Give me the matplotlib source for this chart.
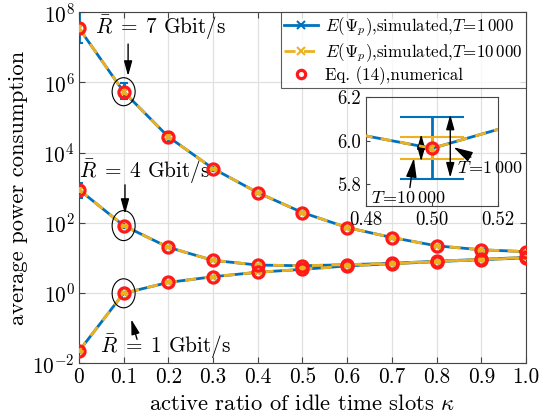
import matplotlib
matplotlib.use("Agg")
import matplotlib.pyplot as plt
import matplotlib.transforms as mtransforms
from matplotlib.lines import Line2D
from matplotlib.patches import Ellipse

plt.rcParams.update({
    "font.family": "serif",
    "font.serif": ["cmr10", "DejaVu Serif"],
    "mathtext.fontset": "cm",
    "axes.formatter.use_mathtext": True,
    "axes.unicode_minus": False,
})

BLUE = "#0072BD"
YELLOW = "#EDB120"
RED = "#FF1A1A"

kappa = [0.0, 0.1, 0.2, 0.3, 0.4, 0.5, 0.6, 0.7, 0.8, 0.9, 1.0]
kappa_labels = ["0", "0.1", "0.2", "0.3", "0.4", "0.5", "0.6", "0.7", "0.8", "0.9", "1.0"]

# mean power per rate (simulated ~ numerical)
power_r7 = [3.5e7, 5.4e5, 2.8e4, 3.5e3, 720, 195, 73, 38, 22, 17, 15]
power_r4 = [880, 83, 20, 8.5, 6.25, 5.965, 6.4, 7.0, 8.0, 9.1, 10.3]
power_r1 = [0.022, 0.98, 2.0, 2.9, 3.9, 4.7, 5.9, 6.8, 7.8, 8.9, 10.0]

# spread of the simulated mean (lower / upper bound)
r7_lo_1000 = [1.3e7, 3.3e5, 2.0e4, 3.0e3, 690, 190, 71, 37, 21.5, 16.6, 14.7]
r7_hi_1000 = [9.8e7, 9.5e5, 3.9e4, 4.0e3, 750, 200, 75, 39, 22.5, 17.4, 15.3]
r4_lo_1000 = [520, 72, 19, 8.2, 6.1, 5.825, 6.25, 6.85, 7.85, 8.95, 10.1]
r4_hi_1000 = [1350, 95, 21, 8.8, 6.4, 6.108, 6.55, 7.15, 8.15, 9.25, 10.5]
r1_lo_1000 = [0.019, 0.94, 1.95, 2.85, 3.85, 4.62, 5.8, 6.7, 7.7, 8.8, 9.85]
r1_hi_1000 = [0.025, 1.02, 2.05, 2.95, 3.95, 4.78, 6.0, 6.9, 7.9, 9.0, 10.15]

r7_lo_10000 = [2.5e7, 4.5e5, 2.5e4, 3.3e3, 710, 193, 72, 37.6, 21.8, 16.8, 14.9]
r7_hi_10000 = [4.8e7, 6.5e5, 3.2e4, 3.7e3, 730, 197, 74, 38.4, 22.2, 17.2, 15.1]
r4_lo_10000 = [760, 79, 19.6, 8.4, 6.2, 5.915, 6.35, 6.95, 7.95, 9.05, 10.25]
r4_hi_10000 = [1000, 87, 20.4, 8.6, 6.3, 6.016, 6.45, 7.05, 8.05, 9.15, 10.35]
r1_lo_10000 = [0.021, 0.96, 1.98, 2.88, 3.88, 4.67, 5.87, 6.77, 7.77, 8.87, 9.95]
r1_hi_10000 = [0.023, 1.0, 2.02, 2.92, 3.92, 4.73, 5.93, 6.83, 7.83, 8.93, 10.05]

curves = [
    (power_r7, r7_lo_1000, r7_hi_1000, r7_lo_10000, r7_hi_10000),
    (power_r4, r4_lo_1000, r4_hi_1000, r4_lo_10000, r4_hi_10000),
    (power_r1, r1_lo_1000, r1_hi_1000, r1_lo_10000, r1_hi_10000),
]

LABEL_1000 = r"$E(\mathit{\Psi}_{\mathit{p}})$,simulated,$T\!=\!1\,000$"
LABEL_10000 = r"$E(\mathit{\Psi}_{\mathit{p}})$,simulated,$T\!=\!10\,000$"
LABEL_NUM = "Eq. (14),numerical"
DASH = (0, (4, 3))


def yerr(vals, lo, hi):
    return [[v - l for v, l in zip(vals, lo)], [h - v for v, h in zip(vals, hi)]]


def draw_curves(ax, capsize, capthick):
    for vals, lo1, hi1, lo2, hi2 in curves:
        ax.errorbar(kappa, vals, yerr=yerr(vals, lo1, hi1), color=BLUE, lw=2, marker="x", ms=6,
                    mew=1.5, capsize=capsize, capthick=capthick, elinewidth=2, zorder=2)
        ax.errorbar(kappa, vals, yerr=yerr(vals, lo2, hi2), color=YELLOW, lw=2, ls=DASH,
                    marker="x", ms=6, mew=1.5, capsize=capsize, capthick=capthick, elinewidth=2,
                    zorder=3)
        ax.plot(kappa, vals, ls="none", marker="o", ms=8, mfc="none", mec=RED, mew=2.3, zorder=4)


fig = plt.figure(figsize=(5.48, 4.17), dpi=100)
ax = fig.add_axes([0.144, 0.129, 0.816, 0.842])
draw_curves(ax, capsize=3, capthick=2)

ax.set_yscale("log")
ax.set_xlim(0, 1)
ax.set_ylim(1e-2, 1e8)
ax.set_yticks([1e-2, 1e0, 1e2, 1e4, 1e6, 1e8])
ax.yaxis.set_minor_locator(matplotlib.ticker.NullLocator())
ax.set_xticks(kappa)
ax.set_xticklabels(kappa_labels)
ax.tick_params(direction="in", top=True, right=True, labelsize=15.3, length=4, color="#444444",
               pad=3)
ax.grid(True, color="#e0e0e0", lw=0.9)
ax.set_axisbelow(True)
for s in ax.spines.values():
    s.set_color("#444444")
ax.set_xlabel(r"active ratio of idle time slots $\kappa$", fontsize=16.3, labelpad=5)
ax.set_ylabel("average power consumption", fontsize=16.3, labelpad=3)

handles = [
    Line2D([], [], color=BLUE, lw=2, marker="x", ms=6, mew=1.5),
    Line2D([], [], color=YELLOW, lw=2, ls=DASH, marker="x", ms=6, mew=1.5),
    Line2D([], [], ls="none", marker="o", ms=6, mfc="none", mec=RED, mew=2.3),
]
leg = ax.legend(handles, [LABEL_1000, LABEL_10000, LABEL_NUM], loc="upper right", fontsize=12.2,
                frameon=True, fancybox=False, edgecolor="#333333", borderaxespad=0.0,
                handlelength=2.0, handletextpad=0.4, borderpad=0.2, labelspacing=0.15)
leg.get_frame().set_linewidth(0.8)

# ellipses around kappa = 0.1
for vals, h in [(power_r7, 0.28), (power_r4, 0.30), (power_r1, 0.29)]:
    trans = fig.dpi_scale_trans + mtransforms.ScaledTranslation(kappa[1], vals[1], ax.transData)
    ax.add_patch(Ellipse((0, 0), 0.23, h, transform=trans, fill=False, lw=0.8, color="black", zorder=5))

arrow = dict(arrowstyle="-|>,head_length=0.9,head_width=0.25", color="black", lw=1.0, shrinkA=0, shrinkB=0)
ax.text(0.036, 0.955, r"$\bar{R}\;=\;7$ Gbit/s", transform=ax.transAxes, fontsize=15.3, va="center")
ax.annotate("", xy=(0.11, 0.818), xytext=(0.11, 0.909), xycoords="axes fraction", arrowprops=arrow)
ax.text(0.0, 0.545, r"$\bar{R}\;=\;4$ Gbit/s", transform=ax.transAxes, fontsize=15.3, va="center")
ax.annotate("", xy=(0.103, 0.425), xytext=(0.103, 0.508), xycoords="axes fraction", arrowprops=arrow)
ax.text(0.047, 0.048, r"$\bar{R}\;=\;1$ Gbit/s", transform=ax.transAxes, fontsize=15.3, va="center")
ax.annotate("", xy=(0.117, 0.125), xytext=(0.13, 0.068), xycoords="axes fraction", arrowprops=arrow)

# inset zoom around kappa = 0.5
axin = fig.add_axes([0.668, 0.506, 0.241, 0.261])
axin.set_facecolor("none")
draw_curves(axin, capsize=23, capthick=2)
axin.set_xlim(0.48, 0.52)
axin.set_ylim(5.7, 6.2)
axin.set_xticks([0.48, 0.50, 0.52])
axin.set_xticklabels(["0.48", "0.50", "0.52"])
axin.set_yticks([5.8, 6.0, 6.2])
axin.set_yticklabels(["5.8", "6.0", "6.2"])
axin.tick_params(direction="in", labelsize=13.5, length=3, color="#444444")
for s in axin.spines.values():
    s.set_color("#444444")

darrow = dict(arrowstyle="<|-|>,head_length=0.9,head_width=0.25", color="black", lw=1.0,
              shrinkA=0, shrinkB=0)
axin.annotate("", xy=(0.4967, 5.905), xytext=(0.4967, 6.03), arrowprops=darrow)
axin.annotate("", xy=(0.5055, 5.83), xytext=(0.5055, 6.12), arrowprops=darrow)
axin.annotate(r"$T\!=\!1\,000$", xy=(0.5065, 5.97), xytext=(0.5075, 5.875), fontsize=13,
              va="center", ha="left", arrowprops=arrow, annotation_clip=False)
axin.annotate(r"$T\!=\!10\,000$", xy=(0.4945, 5.92), xytext=(0.4815, 5.735), fontsize=13,
              va="center", ha="left", arrowprops=arrow)

fig.savefig("out.png", dpi=100)
